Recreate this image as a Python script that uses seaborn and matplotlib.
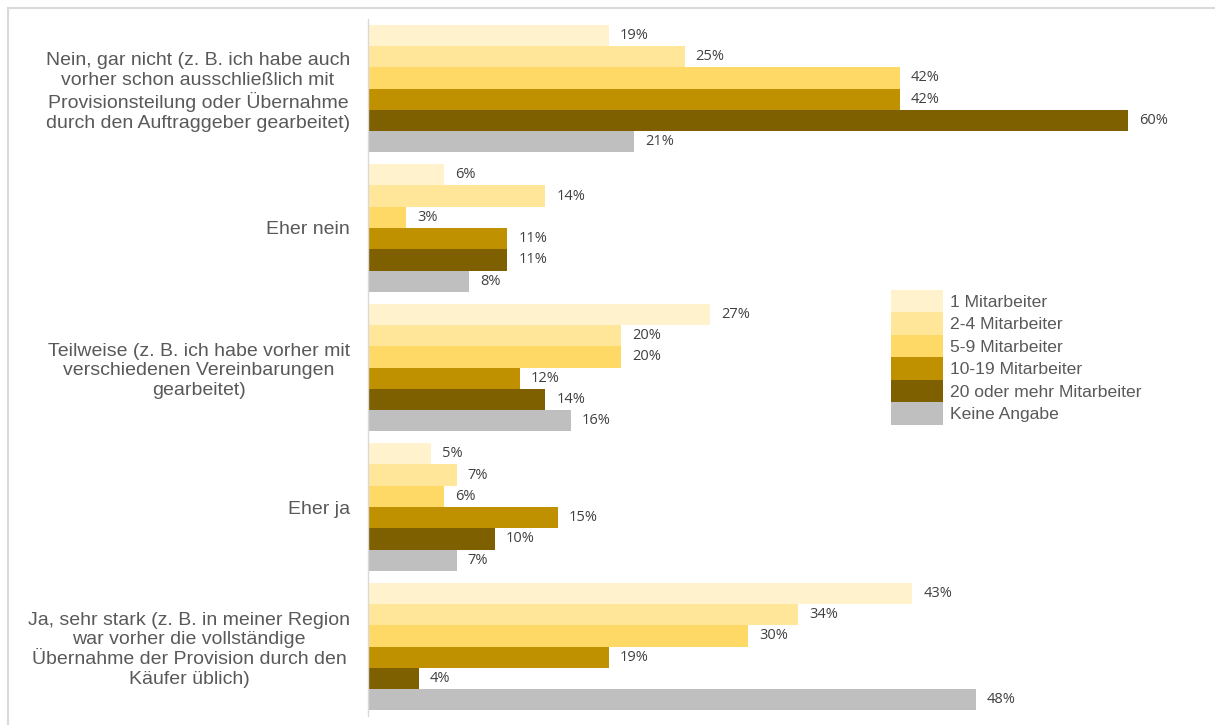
import seaborn as sns
import pandas as pd
import matplotlib.pyplot as plt
from matplotlib.patches import Rectangle

# answer categories (y axis, top to bottom)
categories = [
    "Nein, gar nicht (z. B. ich habe auch\nvorher schon ausschließlich mit\nProvisionsteilung oder Übernahme\ndurch den Auftraggeber gearbeitet)",
    "Eher nein",
    "Teilweise (z. B. ich habe vorher mit\nverschiedenen Vereinbarungen\ngearbeitet)",
    "Eher ja",
    "Ja, sehr stark (z. B. in meiner Region\nwar vorher die vollständige\nÜbernahme der Provision durch den\nKäufer üblich)",
]

# company size groups (hue)
groups = ["1 Mitarbeiter", "2-4 Mitarbeiter", "5-9 Mitarbeiter",
          "10-19 Mitarbeiter", "20 oder mehr Mitarbeiter", "Keine Angabe"]

# percentages per group, in order of categories
v_1 = [19, 6, 27, 5, 43]
v_2_4 = [25, 14, 20, 7, 34]
v_5_9 = [42, 3, 20, 6, 30]
v_10_19 = [42, 11, 12, 15, 19]
v_20 = [60, 11, 14, 10, 4]
v_keine = [21, 8, 16, 7, 48]

colors = ["#FFF2CC", "#FFE699", "#FFD966", "#BF9000", "#7F6000", "#BFBFBF"]

rows = []
for g, vals in zip(groups, [v_1, v_2_4, v_5_9, v_10_19, v_20, v_keine]):
    for c, v in zip(categories, vals):
        rows.append({"Kategorie": c, "Gruppe": g, "Wert": v})
df = pd.DataFrame(rows)

fig = plt.figure(figsize=(12.15, 7.25), dpi=100)
ax = fig.add_axes([368 / 1215, 8.75 / 725, 835.6 / 1215, 697.5 / 725])

sns.barplot(data=df, y="Kategorie", x="Wert", hue="Gruppe", order=categories,
            hue_order=groups, palette=colors, orient="h", width=0.917, gap=0,
            saturation=1, linewidth=0, ax=ax)

for cont in ax.containers:
    ax.bar_label(cont, fmt="{:.0f}%", padding=8, fontsize=10.5,
                 color="#404040", family="Open Sans")

ax.set_xlim(0, 66)
ax.set_ylim(4.5, -0.5)
ax.set_xlabel("")
ax.set_ylabel("")
ax.set_xticks([])
for s in ["top", "right", "bottom"]:
    ax.spines[s].set_visible(False)
ax.spines["left"].set_color("#d9d9d9")
ax.spines["left"].set_linewidth(1)
ax.tick_params(axis="y", length=0, pad=13)
for lbl in ax.get_yticklabels():
    lbl.set_fontfamily("Liberation Sans")
    lbl.set_fontsize(14)
    lbl.set_color("#595959")
    lbl.set_multialignment("center")
    lbl.set_linespacing(1.22)

handles, labels = ax.get_legend_handles_labels()
ax.get_legend().remove()
fig.legend(handles, labels, loc="upper left", bbox_to_anchor=(891 / 1215, 1 - 290 / 725),
           frameon=False, borderpad=0, borderaxespad=0, labelspacing=0,
           handlelength=3.0, handleheight=1.6, handletextpad=0.35,
           prop={"family": "Liberation Sans", "size": 12.6}, labelcolor="#595959")

# light outer frame of the chart area
fig.add_artist(Rectangle((7.5 / 1215, -0.1), 1.2, 1 - 7.5 / 725 + 0.1,
                         transform=fig.transFigure, fill=False,
                         edgecolor="#d9d9d9", linewidth=1.5))

fig.savefig("out.png", dpi=100)
